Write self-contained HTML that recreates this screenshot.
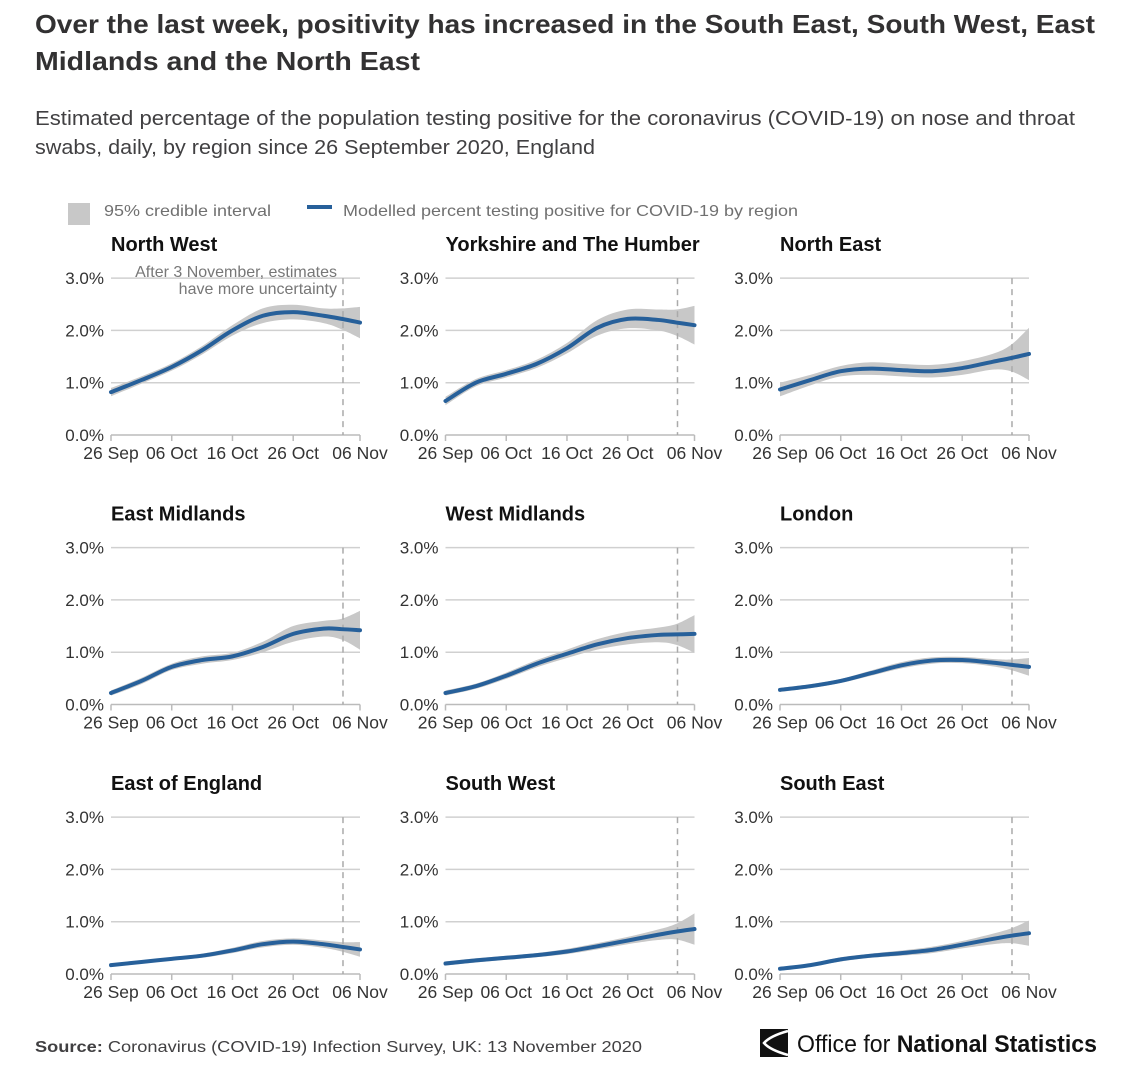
<!DOCTYPE html>
<html><head><meta charset="utf-8"><style>
html,body{margin:0;padding:0;background:#fff;}
svg{display:block;font-family:"Liberation Sans",sans-serif;}
</style></head><body>
<svg id="chart" width="1137" height="1069" viewBox="0 0 1137 1069" xmlns="http://www.w3.org/2000/svg">
<text x="35" y="33" font-size="26" font-weight="bold" fill="#323132" textLength="1060" lengthAdjust="spacingAndGlyphs">Over the last week, positivity has increased in the South East, South West, East</text>
<text x="35" y="70" font-size="26" font-weight="bold" fill="#323132" textLength="385" lengthAdjust="spacingAndGlyphs">Midlands and the North East</text>
<text x="35" y="125" font-size="20" fill="#414042" textLength="1040" lengthAdjust="spacingAndGlyphs">Estimated percentage of the population testing positive for the coronavirus (COVID-19) on nose and throat</text>
<text x="35" y="154" font-size="20" fill="#414042" textLength="560" lengthAdjust="spacingAndGlyphs">swabs, daily, by region since 26 September 2020, England</text>
<g>
<rect x="68" y="203" width="22" height="22" fill="#c8c8c8"/>
<text x="104" y="216" font-size="16" fill="#707070" textLength="167" lengthAdjust="spacingAndGlyphs">95% credible interval</text>
<line x1="307" y1="207" x2="332" y2="207" stroke="#27609a" stroke-width="4"/>
<text x="343" y="216" font-size="16" fill="#707070" textLength="455" lengthAdjust="spacingAndGlyphs">Modelled percent testing positive for COVID-19 by region</text>
</g>
<g id="panels"></g>
<text x="35" y="1052" font-size="16" fill="#414042" textLength="607" lengthAdjust="spacingAndGlyphs"><tspan font-weight="bold">Source:</tspan> Coronavirus (COVID-19) Infection Survey, UK: 13 November 2020</text>
<g>
<rect x="760" y="1029" width="28" height="28" fill="#111"/>
<path d="M788 1031 Q770 1036 764 1043 Q770 1050 788 1055" fill="none" stroke="#fff" stroke-width="2.5"/>
<text x="797" y="1052" font-size="24" fill="#111" textLength="300" lengthAdjust="spacingAndGlyphs">Office for <tspan font-weight="bold">National Statistics</tspan></text>
</g>
</svg>
<script>
const days = [0,5,10,15,20,25,30,35,38,41];
const regionNames = ["North West","Yorkshire and The Humber","North East","East Midlands","West Midlands","London","East of England","South West","South East"];
const nw = [0.82,1.05,1.3,1.62,2.0,2.28,2.35,2.28,2.22,2.15];
const yh = [0.65,1.0,1.17,1.36,1.66,2.05,2.22,2.2,2.15,2.1];
const ne = [0.87,1.05,1.22,1.27,1.24,1.22,1.28,1.4,1.47,1.55];
const em = [0.22,0.45,0.72,0.85,0.92,1.1,1.35,1.45,1.44,1.42];
const wm = [0.22,0.35,0.55,0.78,0.97,1.15,1.27,1.33,1.34,1.35];
const ld = [0.28,0.35,0.45,0.6,0.75,0.84,0.85,0.8,0.76,0.72];
const ee = [0.17,0.23,0.29,0.35,0.45,0.57,0.62,0.57,0.52,0.47];
const sw = [0.2,0.26,0.31,0.36,0.43,0.53,0.64,0.75,0.81,0.86];
const se = [0.1,0.17,0.28,0.35,0.4,0.46,0.56,0.67,0.73,0.78];
const nwHw = [0.08,0.07,0.07,0.08,0.1,0.14,0.14,0.14,0.2,0.3];
const yhHw = [0.08,0.07,0.07,0.08,0.1,0.15,0.18,0.2,0.25,0.37];
const neHw = [0.13,0.1,0.1,0.12,0.12,0.12,0.13,0.15,0.25,0.5];
const emHw = [0.05,0.06,0.06,0.07,0.07,0.1,0.15,0.15,0.2,0.37];
const wmHw = [0.05,0.05,0.06,0.07,0.08,0.1,0.12,0.14,0.2,0.36];
const ldHw = [0.04,0.04,0.04,0.05,0.06,0.06,0.06,0.07,0.1,0.17];
const eeHw = [0.03,0.03,0.03,0.04,0.05,0.06,0.06,0.07,0.09,0.14];
const swHw = [0.04,0.04,0.04,0.04,0.05,0.06,0.07,0.1,0.15,0.3];
const seHw = [0.03,0.03,0.04,0.04,0.05,0.06,0.07,0.1,0.14,0.24];
const yTicks = [0,1,2,3];
const yTickLabels = ["0.0%","1.0%","2.0%","3.0%"];
const xTicks = [0,10,20,30,41];
const xTickLabels = ["26 Sep","06 Oct","16 Oct","26 Oct","06 Nov"];
const dashDay = 38.2;
const series = [nw,yh,ne,em,wm,ld,ee,sw,se];
const halfw = [nwHw,yhHw,neHw,emHw,wmHw,ldHw,eeHw,swHw,seHw];

const NS="http://www.w3.org/2000/svg";
const g=document.getElementById('panels');
function mk(t,a,p){const e=document.createElementNS(NS,t);for(const k in a)e.setAttribute(k,a[k]);(p||g).appendChild(e);return e;}
function smooth(pts){let d="M"+pts[0][0]+","+pts[0][1];for(let i=0;i<pts.length-1;i++){const p0=pts[Math.max(0,i-1)],p1=pts[i],p2=pts[i+1],p3=pts[Math.min(pts.length-1,i+2)];const c1=[p1[0]+(p2[0]-p0[0])/6,p1[1]+(p2[1]-p0[1])/6],c2=[p2[0]-(p3[0]-p1[0])/6,p2[1]-(p3[1]-p1[1])/6];d+=" C"+c1[0]+","+c1[1]+" "+c2[0]+","+c2[1]+" "+p2[0]+","+p2[1];}return d;}
function segs(pts){let d=smooth(pts);return d.slice(d.indexOf(' '));}

for(let r=0;r<9;r++){
  const col=r%3,row=Math.floor(r/3);
  const x0=111+col*334.5, x1=x0+249, y0=435+row*269.5, pxPer=52.3;
  const X=d=>x0+d/41*(x1-x0), Y=v=>y0-v*pxPer;
  const pg=mk('g',{});
  
  
  const t=mk('text',{x:x0,y:y0-184,'font-size':20,'font-weight':'bold',fill:'#111'},pg);t.textContent=regionNames[r];
  
  
  yTicks.forEach((v,i)=>{
    if(v>0){const l=mk('line',{x1:x0,x2:x1,y1:Y(v),y2:Y(v),stroke:'#d0d0d0','stroke-width':1.5},pg);
    
    }
    const tl=mk('text',{x:x0-7,y:Y(v)+6,'font-size':17,fill:'#333','text-anchor':'end'},pg);tl.textContent=yTickLabels[i];
    
    
  });
  const ax=mk('line',{x1:x0,x2:x1,y1:y0,y2:y0,stroke:'#bbb','stroke-width':1.5},pg);
  
  
  xTicks.forEach((d,i)=>{
    mk('line',{x1:X(d),x2:X(d),y1:y0,y2:y0+6,stroke:'#bbb','stroke-width':1.5},pg);
    const tl=mk('text',{x:X(d),y:y0+24,'font-size':17.5,fill:'#333','text-anchor':'middle'},pg);tl.textContent=xTickLabels[i];
    
    
  });
  const up=days.map((d,i)=>[X(d),Y(series[r][i]+halfw[r][i])]);
  const lo=days.map((d,i)=>[X(d),Y(Math.max(0,series[r][i]-halfw[r][i]))]).reverse();
  const band=mk('path',{d:smooth(up)+" L"+lo[0][0]+","+lo[0][1]+segs(lo)+" Z",fill:'#c8c8c8'},pg);
  
  
  const dl=mk('line',{x1:X(dashDay),x2:X(dashDay),y1:Y(3),y2:y0,stroke:'#aaa','stroke-width':1.5,'stroke-dasharray':'6,5'},pg);
  
  
  const ln=mk('path',{d:smooth(days.map((d,i)=>[X(d),Y(series[r][i])])),fill:'none',stroke:'#27609a','stroke-width':4,'stroke-linecap':'round'},pg);
  
  
  if(r===0){
    const a1=mk('text',{x:X(dashDay)-6,y:277,'font-size':16,fill:'#777','text-anchor':'end'},pg);a1.textContent="After 3 November, estimates";
    
    
    const a2=mk('text',{x:X(dashDay)-6,y:294,'font-size':16,fill:'#777','text-anchor':'end'},pg);a2.textContent="have more uncertainty";
    
    
  }
}
</script>
</body></html>
